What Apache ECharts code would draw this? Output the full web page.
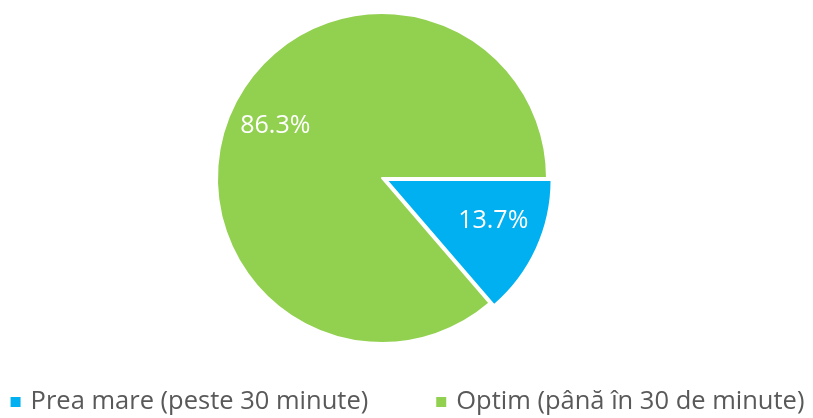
<!DOCTYPE html>
<html>
<head>
<meta charset="utf-8">
<script src="https://cdn.jsdelivr.net/npm/echarts@6/dist/echarts.min.js"></script>
<style>
	html, body {margin: 0; padding: 0; background: #fff;}
	#chart {width: 813px; height: 418px;}
</style>
</head>
<body>
<div id="chart"></div>
<script>
var categories = ['Prea mare (peste 30 minute)', 'Optim (până în 30 de minute)'];
var values = [13.7, 86.3];
var colors = ['#00B0F0', '#92D050'];
var label_offsets = [[29, 5], [-29, -16]];

var myChart = echarts.init(document.getElementById('chart'));

var data = [];
for (var i = 0; i < categories.length; i++){
	data.push({
		name: categories[i],
		value: values[i],
		selected: i == 0,
		itemStyle: {color: colors[i]},
		label: {offset: label_offsets[i]},
		select: {label: {offset: label_offsets[i]}}
	});
}

var options = {
	animation: false,
	legend: {
		top: 384,
		left: 'center',
		itemWidth: 12,
		itemHeight: 12,
		itemGap: 66,
		icon: 'rect',
		textStyle: {fontFamily: 'Open Sans', fontSize: 25.5, lineHeight: 26, color: '#595959', padding: [0, 0, 0, 4]},
		data: categories
	},
	series: [{
		type: 'pie',
		center: [382, 178],
		radius: [0, 165],
		startAngle: 0,
		clockwise: true,
		selectedMode: 'single',
		selectedOffset: 5,
		emphasis: {disabled: true},
		itemStyle: {borderColor: '#fff', borderWidth: 2},
		label: {
			show: true,
			position: 'inside',
			formatter: function (p){ return p.value.toFixed(1) + '%'; },
			color: '#fff',
			fontFamily: 'Open Sans',
			fontSize: 25
		},
		labelLine: {show: false},
		data: data
	}]
};

myChart.setOption(options, true);
</script>
</body>
</html>
